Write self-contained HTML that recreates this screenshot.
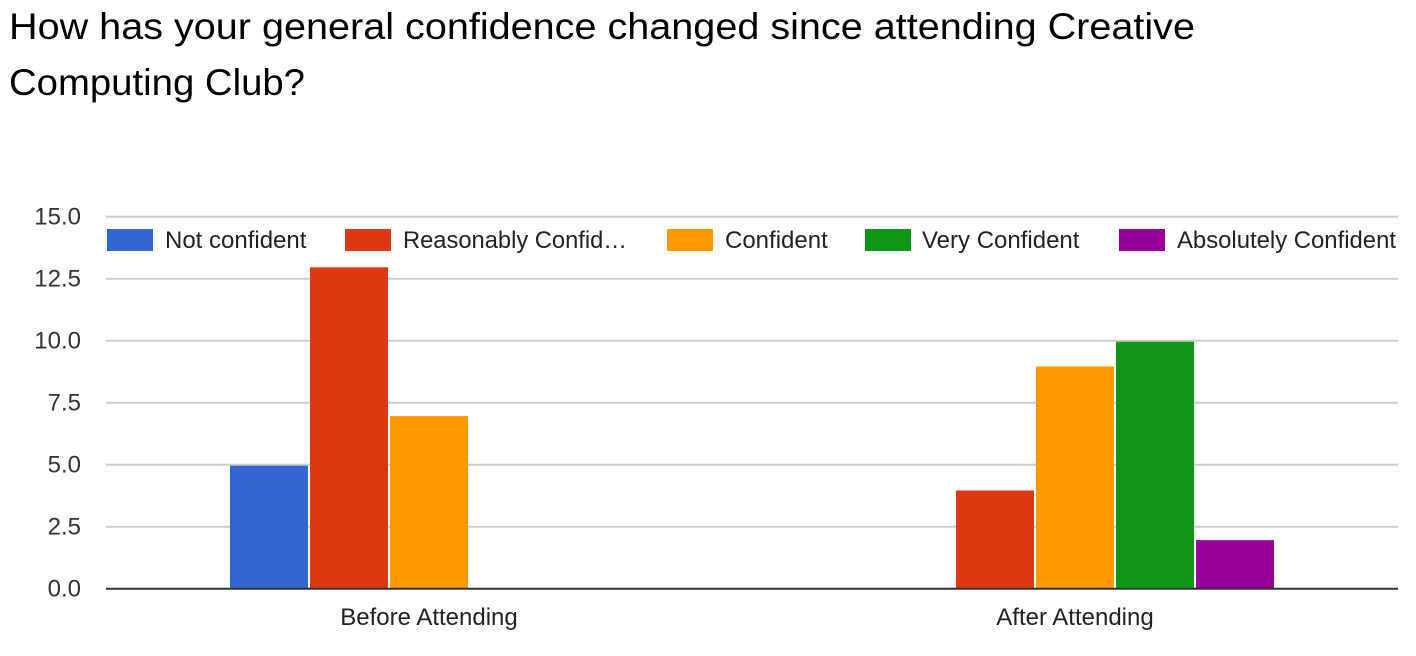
<!DOCTYPE html>
<html>
<head>
<meta charset="utf-8">
<style>
  html, body { margin: 0; padding: 0; background: #ffffff; }
  svg { display: block; }
  text { font-family: "Liberation Sans", Arial, sans-serif; }
</style>
</head>
<body>
<svg width="1416" height="656" viewBox="0 0 1416 656" xmlns="http://www.w3.org/2000/svg">
  <rect x="0" y="0" width="1416" height="656" fill="#ffffff"/>

  <!-- Title -->
  <text x="9" y="39" font-size="37" fill="#000000" textLength="1186" lengthAdjust="spacingAndGlyphs">How has your general confidence changed since attending Creative</text>
  <text x="9" y="95" font-size="37" fill="#000000" textLength="296" lengthAdjust="spacingAndGlyphs">Computing Club?</text>

  <!-- Gridlines -->
  <g stroke="#cccccc" stroke-width="2">
    <line x1="106" y1="216.7" x2="1398" y2="216.7"/>
    <line x1="106" y1="278.7" x2="1398" y2="278.7"/>
    <line x1="106" y1="340.7" x2="1398" y2="340.7"/>
    <line x1="106" y1="402.7" x2="1398" y2="402.7"/>
    <line x1="106" y1="464.7" x2="1398" y2="464.7"/>
    <line x1="106" y1="526.7" x2="1398" y2="526.7"/>
  </g>

  <!-- Y tick labels -->
  <g font-size="24" fill="#333333" text-anchor="end">
    <text x="81" y="224.5">15.0</text>
    <text x="81" y="286.5">12.5</text>
    <text x="81" y="348.5">10.0</text>
    <text x="81" y="410.5">7.5</text>
    <text x="81" y="472.5">5.0</text>
    <text x="81" y="534.5">2.5</text>
    <text x="81" y="596.5">0.0</text>
  </g>

  <!-- Bars: Before Attending -->
  <rect x="230" y="465.7" width="78" height="123.3" fill="#3366cc"/>
  <rect x="310" y="267.3" width="78" height="321.7" fill="#dc3912"/>
  <rect x="390" y="416.1" width="78" height="172.9" fill="#ff9900"/>

  <!-- Bars: After Attending -->
  <rect x="956" y="490.5" width="78" height="98.5" fill="#dc3912"/>
  <rect x="1036" y="366.5" width="78" height="222.5" fill="#ff9900"/>
  <rect x="1116" y="341.7" width="78" height="247.3" fill="#109618"/>
  <rect x="1196" y="540.1" width="78" height="48.9" fill="#990099"/>

  <!-- Baseline axis -->
  <line x1="106" y1="588.8" x2="1398" y2="588.8" stroke="#333333" stroke-width="2"/>

  <!-- Category labels -->
  <g font-size="24" fill="#222222" text-anchor="middle">
    <text x="429" y="625">Before Attending</text>
    <text x="1075" y="625">After Attending</text>
  </g>

  <!-- Legend -->
  <g font-size="24" fill="#222222">
    <rect x="107" y="229" width="46" height="22" fill="#3366cc"/>
    <text x="165" y="248">Not confident</text>

    <rect x="345" y="229" width="46" height="22" fill="#dc3912"/>
    <text x="403" y="248" textLength="224" lengthAdjust="spacingAndGlyphs">Reasonably Confid…</text>

    <rect x="667" y="229" width="46" height="22" fill="#ff9900"/>
    <text x="725" y="248">Confident</text>

    <rect x="865" y="229" width="46" height="22" fill="#109618"/>
    <text x="922" y="248">Very Confident</text>

    <rect x="1119" y="229" width="46" height="22" fill="#990099"/>
    <text x="1177" y="248" textLength="219" lengthAdjust="spacingAndGlyphs">Absolutely Confident</text>
  </g>
</svg>
</body>
</html>
